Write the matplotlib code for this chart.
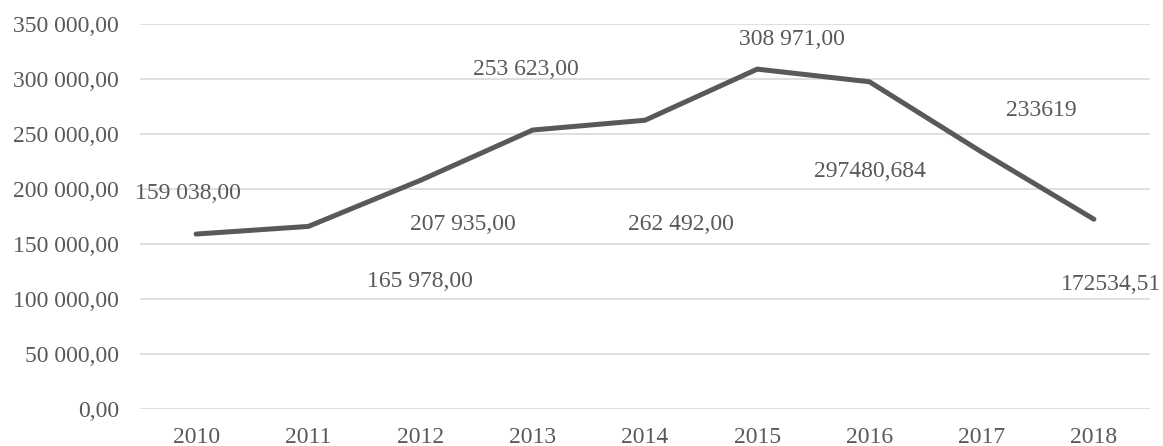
import matplotlib.pyplot as plt
from matplotlib.ticker import FuncFormatter, MultipleLocator

# data
years = ['2010', '2011', '2012', '2013', '2014', '2015', '2016', '2017', '2018']
values = [159038, 165978, 207935, 253623, 262492, 308971, 297480.684, 233619, 172534.51]
labels = ['159 038,00', '165 978,00', '207 935,00', '253 623,00', '262 492,00',
          '308 971,00', '297480,684', '233619', '172534,51']
# label offsets in pixels (dx, dy)
offsets = [(-8, 43), (112, -53), (42, -42), (-7, 63), (36, -102),
           (35, 32), (0, -87), (60, 44), (17, -63)]

plt.rcParams['font.family'] = ['Liberation Serif', 'DejaVu Serif']
grey = '#595959'

fig = plt.figure(figsize=(11.63, 4.46), dpi=100)
ax = fig.add_axes([140 / 1163, 37 / 446, 1010 / 1163, 385 / 446])

x = list(range(len(years)))
ax.plot(x, values, color=grey, lw=3.6, solid_capstyle='round', solid_joinstyle='round', zorder=3)

for i, (v, lab) in enumerate(zip(values, labels)):
    ax.annotate(lab, xy=(i, v), xytext=offsets[i], textcoords='offset pixels',
                ha='center', va='center_baseline', fontsize=17, color=grey)

ax.set_xlim(-0.5, len(years) - 0.5)
ax.set_ylim(0, 350000)
ax.set_xticks(x)
ax.set_xticklabels(years)
ax.yaxis.set_major_locator(MultipleLocator(50000))
ax.yaxis.set_major_formatter(FuncFormatter(
    lambda v, p: '{:,.2f}'.format(v).replace(',', ' ').replace('.', ',')))
ax.tick_params(axis='both', length=0, labelsize=17, colors=grey)
ax.tick_params(axis='y', pad=15)
ax.tick_params(axis='x', pad=13)
ax.grid(axis='y', color='#d9d9d9', lw=1.2)
ax.set_axisbelow(True)
for s in ax.spines.values():
    s.set_visible(False)

plt.savefig('out.png', dpi=100)
